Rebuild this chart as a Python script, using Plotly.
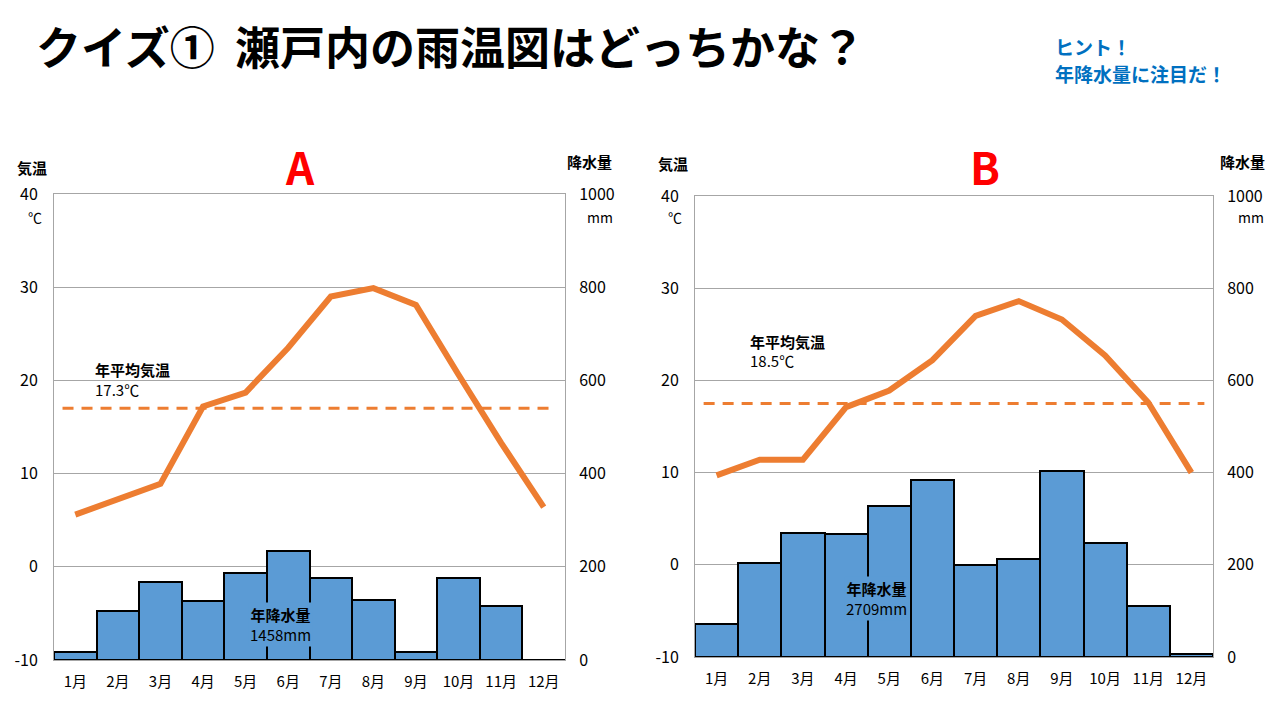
import plotly.graph_objects as go

months = ["1月", "2月", "3月", "4月", "5月", "6月", "7月", "8月", "9月", "10月", "11月", "12月"]

# Chart A
temp_A = [5.6, 7.2, 8.9, 17.2, 18.7, 23.5, 29.0, 29.9, 28.1, 20.6, 13.3, 6.4]
precip_A = [18, 106, 167, 127, 186, 233, 176, 129, 18, 176, 116, 0]
avg_line_A = 17.0
avg_label_A = "17.3℃"
total_label_A = "1458mm"

# Chart B
temp_B = [9.7, 11.4, 11.4, 17.1, 18.9, 22.2, 27.0, 28.6, 26.6, 22.7, 17.6, 10.0]
precip_B = [71, 203, 270, 266, 328, 384, 199, 213, 404, 247, 111, 6]
avg_line_B = 17.5
avg_label_B = "18.5℃"
total_label_B = "2709mm"

temp_ticks = [-10, 0, 10, 20, 30, 40]
precip_ticks = [0, 200, 400, 600, 800, 1000]

FONT = "Noto Sans CJK JP"
BAR = "#5B9BD5"
ORANGE = "#ED7D31"
GRID = "#A6A6A6"
W, H = 1280, 720

def px(x):
    return x / W

def py(y):
    return 1 - y / H

xs = list(range(12))
fig = go.Figure()

# A
fig.add_trace(go.Bar(x=xs, y=precip_A, width=1, marker=dict(color=BAR, line=dict(color="black", width=2)),
                     xaxis="x", yaxis="y", showlegend=False))
fig.add_trace(go.Scatter(x=[-0.3, 11.3], y=[avg_line_A, avg_line_A], mode="lines",
                         line=dict(color=ORANGE, width=3, dash="11px,8px"), xaxis="x", yaxis="y2", showlegend=False))
fig.add_trace(go.Scatter(x=xs, y=temp_A, mode="lines", line=dict(color=ORANGE, width=6),
                         xaxis="x", yaxis="y2", showlegend=False))
# B
fig.add_trace(go.Bar(x=xs, y=precip_B, width=1, marker=dict(color=BAR, line=dict(color="black", width=2)),
                     xaxis="x2", yaxis="y3", showlegend=False))
fig.add_trace(go.Scatter(x=[-0.3, 11.3], y=[avg_line_B, avg_line_B], mode="lines",
                         line=dict(color=ORANGE, width=3, dash="11px,8px"), xaxis="x2", yaxis="y4", showlegend=False))
fig.add_trace(go.Scatter(x=xs, y=temp_B, mode="lines", line=dict(color=ORANGE, width=6),
                         xaxis="x2", yaxis="y4", showlegend=False))

tickfont = dict(family=FONT, size=16, color="black")
monthfont = dict(family=FONT, size=15, color="black")

def xaxis(domain, anchor):
    return dict(domain=domain, anchor=anchor, range=[-0.5, 11.5], tickmode="array", tickvals=xs, ticktext=months,
                showgrid=False, zeroline=False, showline=True, mirror=True, linecolor=GRID, linewidth=1,
                ticks="outside", ticklen=8, tickcolor="rgba(0,0,0,0)", tickfont=monthfont, fixedrange=True,
                automargin=False)

def precip_axis(domain, anchor):
    return dict(domain=domain, anchor=anchor, side="right", range=[0, 1000], tickvals=precip_ticks,
                ticktext=["0", "200", "400", "600", "800", "1000"],
                showgrid=True, gridcolor=GRID, gridwidth=1, zeroline=False, showline=True, mirror=True,
                linecolor=GRID, linewidth=1, ticks="outside", ticklen=10, tickcolor="rgba(0,0,0,0)",
                tickfont=tickfont, fixedrange=True, automargin=False)

def temp_axis(overlay, anchor):
    return dict(overlaying=overlay, anchor=anchor, side="left", range=[-10, 40], tickvals=temp_ticks,
                ticktext=[str(v) for v in temp_ticks], showgrid=False, zeroline=False, showline=False,
                ticks="outside", ticklen=12, tickcolor="rgba(0,0,0,0)", tickfont=tickfont, fixedrange=True,
                automargin=False)

domA_x = [px(54), px(565)]
domA_y = [py(660), py(194)]
domB_x = [px(695), px(1213)]
domB_y = [py(657), py(196)]

fig.update_layout(
    width=W, height=H, margin=dict(l=0, r=0, t=0, b=0, autoexpand=False),
    paper_bgcolor="white", plot_bgcolor="white",
    bargap=0,
    xaxis=xaxis(domA_x, "y"),
    yaxis=precip_axis(domA_y, "x"),
    yaxis2=temp_axis("y", "x"),
    xaxis2=xaxis(domB_x, "y3"),
    yaxis3=precip_axis(domB_y, "x2"),
    yaxis4=temp_axis("y3", "x2"),
)

ann = []
def t(x, y, text, size=15, color="black", bold=False, xanchor="center", bg=None):
    d = dict(xref="paper", yref="paper", x=px(x), y=py(y), text=("<b>%s</b>" % text) if bold else text,
             showarrow=False, xanchor=xanchor, yanchor="middle",
             font=dict(family=FONT, size=size, color=color))
    if bg:
        d["bgcolor"] = bg
    ann.append(d)

# title
t(34, 45, "クイズ①  瀬戸内の雨温図はどっちかな？", size=45, bold=True, xanchor="left")
t(1053, 47, "ヒント！", size=19, color="#0070C0", bold=True, xanchor="left")
t(1053, 74, "年降水量に注目だ！", size=19, color="#0070C0", bold=True, xanchor="left")
# panel labels
t(300, 166, "A", size=44, color="#FF0000", bold=True)
t(985, 166, "B", size=44, color="#FF0000", bold=True)
# axis titles
t(32, 167, "気温", size=15, bold=True)
t(589, 162, "降水量", size=15, bold=True)
t(673, 164, "気温", size=15, bold=True)
t(1242, 162, "降水量", size=15, bold=True)
t(35, 217, "℃", size=14)
t(600, 217, "mm", size=14)
t(675, 217, "℃", size=14)
t(1251, 217, "mm", size=14)
# average temperature labels
t(93, 370, "年平均気温", size=15, bold=True, xanchor="left")
t(93, 389, avg_label_A, size=15, xanchor="left")
t(748, 341, "年平均気温", size=15, bold=True, xanchor="left")
t(748, 360, avg_label_B, size=15, xanchor="left")
# annual precipitation labels
t(248, 624, "<b>年降水量</b><br>" + total_label_A, size=15, xanchor="left", bg=BAR)
t(844, 598, "<b>年降水量</b><br>" + total_label_B, size=15, xanchor="left", bg=BAR)

fig.update_layout(annotations=ann)
fig.write_html("out.html", config={"displayModeBar": False},
               post_script="document.body.style.margin='0';document.body.style.overflow='hidden';")
